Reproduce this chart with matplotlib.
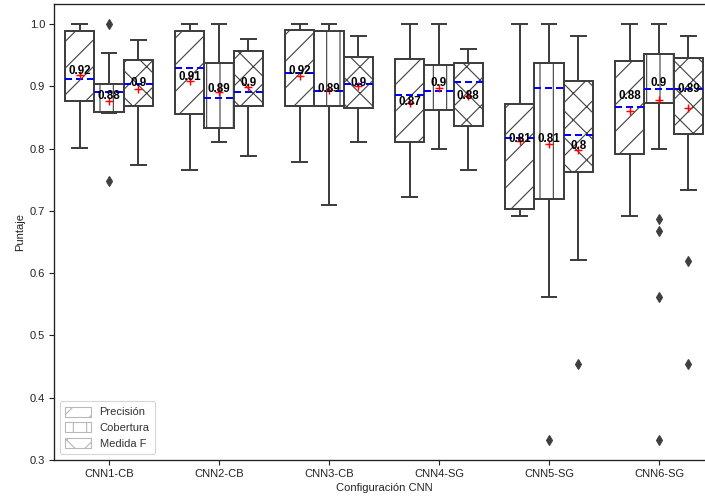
import matplotlib
matplotlib.use("Agg")
import matplotlib.pyplot as plt
from matplotlib.patches import Patch

plt.rcParams['font.family'] = ['Liberation Sans', 'DejaVu Sans']
plt.rcParams['hatch.linewidth'] = 1.0

categories = ["CNN1-CB", "CNN2-CB", "CNN3-CB", "CNN4-SG", "CNN5-SG", "CNN6-SG"]
metrics = ["Precisión", "Cobertura", "Medida F"]

# Precisión
prec_whishi = [1.0, 1.0, 1.0, 1.0, 1.0, 1.0]
prec_q3 = [0.988, 0.989, 0.990, 0.944, 0.871, 0.941]
prec_med = [0.911, 0.929, 0.922, 0.886, 0.817, 0.867]
prec_mean = [0.918, 0.909, 0.917, 0.873, 0.812, 0.861]
prec_q1 = [0.876, 0.855, 0.868, 0.810, 0.703, 0.791]
prec_whislo = [0.801, 0.765, 0.778, 0.722, 0.692, 0.692]
prec_fliers = [[], [], [], [], [], []]
prec_labels = [0.92, 0.91, 0.92, 0.87, 0.81, 0.88]

# Cobertura
cob_whishi = [0.953, 1.0, 1.0, 1.0, 1.0, 1.0]
cob_q3 = [0.903, 0.938, 0.988, 0.934, 0.937, 0.952]
cob_med = [0.890, 0.881, 0.892, 0.892, 0.897, 0.895]
cob_mean = [0.876, 0.891, 0.894, 0.897, 0.807, 0.878]
cob_q1 = [0.858, 0.833, 0.868, 0.862, 0.719, 0.873]
cob_whislo = [0.857, 0.810, 0.709, 0.800, 0.562, 0.800]
cob_fliers = [[1.0, 0.748], [], [], [], [0.332], [0.687, 0.667, 0.561, 0.332]]
cob_labels = [0.88, 0.89, 0.89, 0.9, 0.81, 0.9]

# Medida F
f_whishi = [0.975, 0.976, 0.980, 0.960, 0.980, 0.980]
f_q3 = [0.942, 0.956, 0.947, 0.937, 0.909, 0.945]
f_med = [0.903, 0.891, 0.903, 0.907, 0.822, 0.895]
f_mean = [0.895, 0.898, 0.900, 0.884, 0.797, 0.865]
f_q1 = [0.868, 0.868, 0.865, 0.836, 0.762, 0.823]
f_whislo = [0.774, 0.788, 0.810, 0.765, 0.621, 0.733]
f_fliers = [[], [], [], [], [0.454], [0.620, 0.454]]
f_labels = [0.9, 0.9, 0.9, 0.88, 0.8, 0.89]

series = [
    (prec_whislo, prec_q1, prec_med, prec_q3, prec_whishi, prec_mean, prec_fliers, prec_labels),
    (cob_whislo, cob_q1, cob_med, cob_q3, cob_whishi, cob_mean, cob_fliers, cob_labels),
    (f_whislo, f_q1, f_med, f_q3, f_whishi, f_mean, f_fliers, f_labels),
]
hatches = ['/', '|', 'x']

edge = '#3f3f3f'
DPI = 80
fig = plt.figure(figsize=(705 / DPI, 497 / DPI), dpi=DPI)
ax = fig.add_axes([54 / 705, 1 - 460 / 497, 660 / 705, 456 / 497])

lw = 1.8
width = 0.8 / 3
for k, (wlo, q1, med, q3, whi, mean, fl, lab) in enumerate(series):
    offset = (k - 1) * width
    stats = []
    for i in range(len(categories)):
        stats.append(dict(whislo=wlo[i], q1=q1[i], med=med[i], q3=q3[i],
                          whishi=whi[i], mean=mean[i], fliers=fl[i]))
    pos = [i + offset for i in range(len(categories))]
    bp = ax.bxp(stats, positions=pos, widths=width * 0.99, patch_artist=True,
                showmeans=True, showfliers=True,
                boxprops=dict(facecolor='white', edgecolor=edge, linewidth=lw),
                whiskerprops=dict(color=edge, linewidth=lw),
                capprops=dict(color=edge, linewidth=lw),
                medianprops=dict(color='blue', linestyle='--', linewidth=lw,
                                 dashes=(3.5, 2.0)),
                meanprops=dict(marker='+', markeredgecolor='red', markersize=7,
                               markeredgewidth=1.3),
                flierprops=dict(marker='d', markerfacecolor=edge,
                                markeredgecolor=edge, markersize=7))
    for b in bp['boxes']:
        b.set_hatch(hatches[k])
        b.set_zorder(2)
    for i, v in enumerate(lab):
        ax.text(pos[i], v, f"{v:g}", ha='center', va='baseline',
                fontsize=10.5, fontweight='bold', color='black', zorder=5)

ax.set_xlim(-0.5, len(categories) - 0.5)
ax.set_ylim(0.3, 1.032)
ax.set_xticks(range(len(categories)))
ax.set_xticklabels(categories)
ax.set_yticks([0.3, 0.4, 0.5, 0.6, 0.7, 0.8, 0.9, 1.0])
ax.set_yticklabels(["0.3", "0.4", "0.5", "0.6", "0.7", "0.8", "0.9", "1.0"])
ax.tick_params(labelsize=10, colors='#222222', length=4.5, width=1.0)
ax.set_xlabel("Configuración CNN", fontsize=10, color='#222222')
ax.set_ylabel("Puntaje", fontsize=10, color='#222222')
for s in ax.spines.values():
    s.set_color('#222222')
    s.set_linewidth(1.2)

handles = [Patch(facecolor='white', edgecolor='#b8b8b8', hatch=h, label=m)
           for h, m in zip(hatches, metrics)]
leg = ax.legend(handles=handles, loc='lower left', fontsize=10, frameon=True,
                handlelength=2.3, handleheight=1.0, labelspacing=0.45,
                borderpad=0.5)
for t in leg.get_texts():
    t.set_color('#333333')

fig.savefig("out.png", dpi=DPI)
